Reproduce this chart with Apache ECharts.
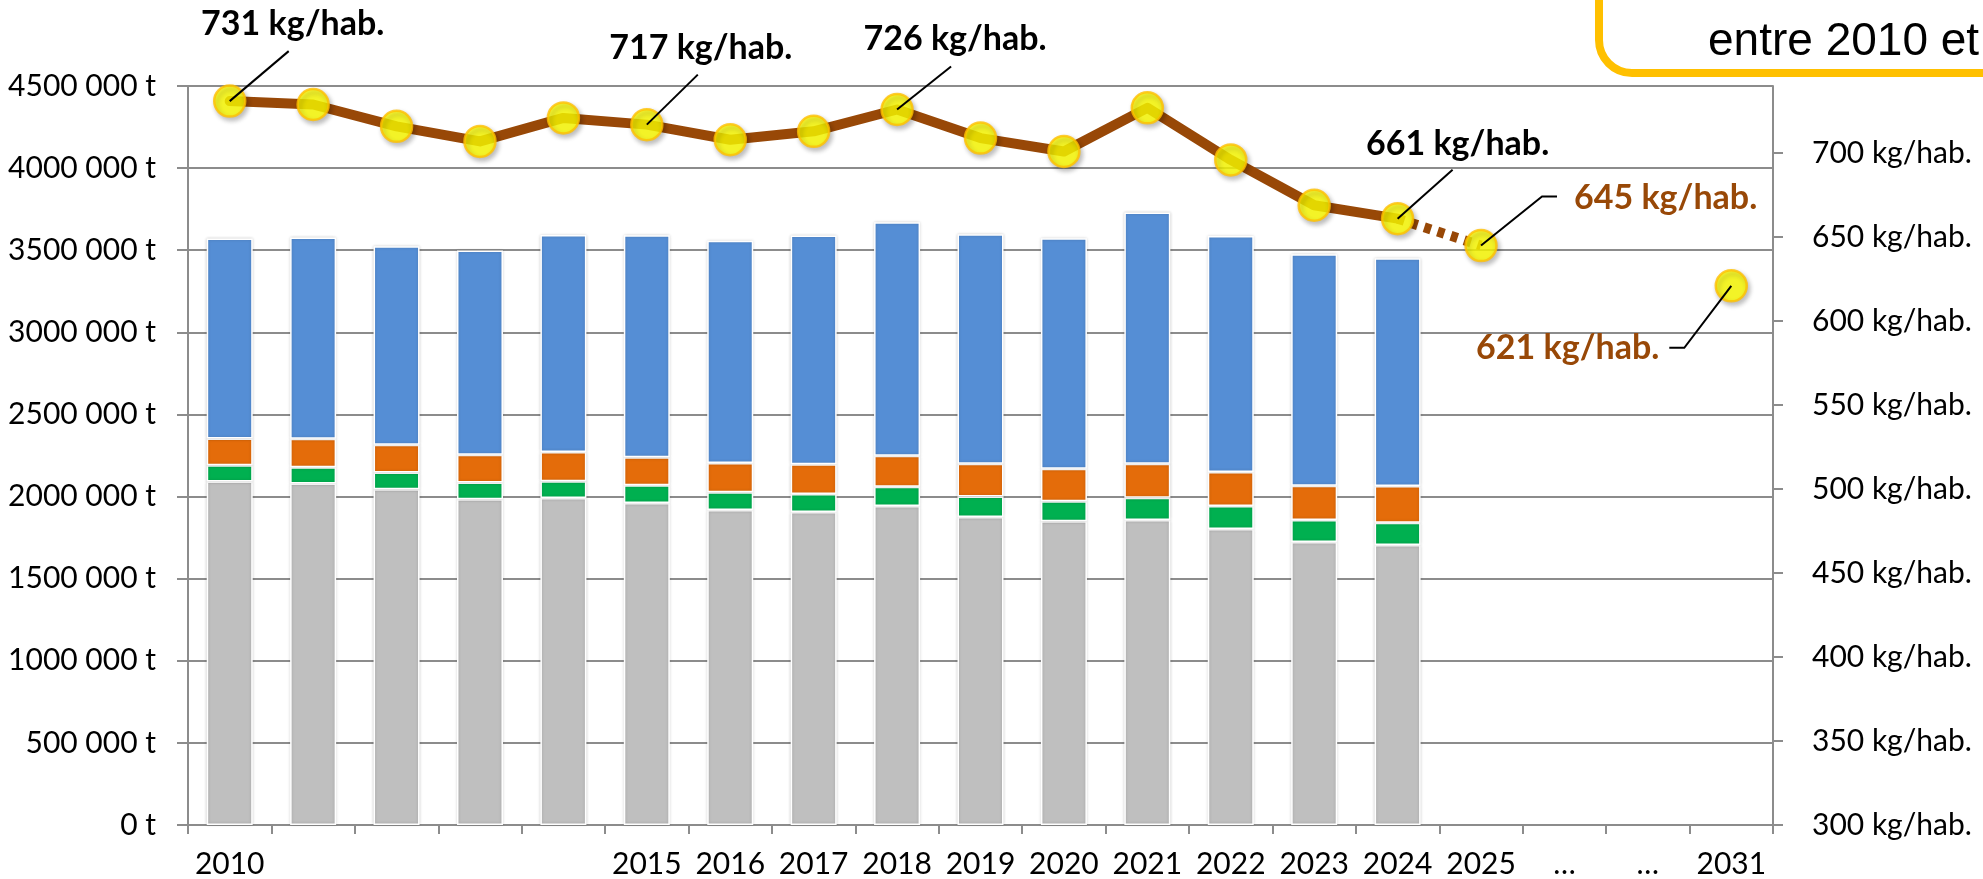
<!DOCTYPE html>
<html lang="fr">
<head>
<meta charset="UTF-8">
<title>kg/hab.</title>
<style>
  html, body { margin: 0; padding: 0; background: #fff; }
  #main { width: 1983px; height: 879px; }
</style>
</head>
<body>
<div id="main"></div>
<script src="https://cdn.jsdelivr.net/npm/echarts@6/dist/echarts.min.js"></script>
<script>
// categories on the x axis
var years = ['2010', '2011', '2012', '2013', '2014', '2015', '2016', '2017', '2018',
             '2019', '2020', '2021', '2022', '2023', '2024', '2025', '…', '…', '2031'];
// what is actually printed under each category
var tickLabels = ['2010', '', '', '', '', '2015', '2016', '2017', '2018',
                  '2019', '2020', '2021', '2022', '2023', '2024', '2025', '…', '…', '2031'];

// tonnages, stacked from bottom to top (2010 -> 2024)
var greyT   = [2091000, 2080000, 2044000, 1983000, 1991000, 1961000, 1918000, 1906000,
               1942000, 1875000, 1849000, 1857000, 1802000, 1723000, 1705000];
var greenT  = [99000, 99000, 102000, 102000, 102000, 108000, 108000, 110000,
               118000, 126000, 122000, 136000, 140000, 134000, 136000];
var orangeT = [164000, 173000, 170000, 170000, 178000, 170000, 178000, 181000,
               189000, 199000, 199000, 207000, 207000, 209000, 223000];
var blueT   = [1218000, 1226000, 1208000, 1243000, 1322000, 1352000, 1353000, 1393000,
               1421000, 1397000, 1403000, 1530000, 1438000, 1409000, 1387000];

// kg/hab. (right axis); null = no point
var kgPerHab = [731, 729, 716, 707, 721, 717, 708, 713, 726, 709, 701, 727, 696, 669, 661,
                645, null, null, 621];
var lastMeasured = 14;           // 2024: solid line stops here, dotted up to 2025
var labelled = ['2010', '2015', '2018', '2024', '2025', '2031'];

var leftTicks = [0, 500000, 1000000, 1500000, 2000000, 2500000, 3000000, 3500000, 4000000, 4500000];
var rightTicks = [300, 350, 400, 450, 500, 550, 600, 650, 700];

// callout layout, in pixels from the point
var callouts = {
    '2010': { line: [[59, -50]], text: [63, -77], align: 'center', color: '#000' },
    '2015': { line: [[51, -50]], text: [54, -77], align: 'center', color: '#000' },
    '2018': { line: [[54, -43]], text: [58, -70], align: 'center', color: '#000' },
    '2024': { line: [[55, -49]], text: [60, -75], align: 'center', color: '#000' },
    '2025': { line: [[61, -49], [76, -49]], text: [93, -48], align: 'left', color: '#984807' },
    '2031': { line: [[-47, 62], [-62, 62]], text: [-72, 62], align: 'right', color: '#984807' }
};

var BROWN = '#984807';
var FONT = 'Lato, Carlito, sans-serif';
var GRID = '#8C8C8C';

var solidLine = kgPerHab.map(function (v, i) { return i <= lastMeasured ? v : '-'; });
var dottedLine = kgPerHab.map(function (v, i) { return (i === lastMeasured || i === lastMeasured + 1) ? v : '-'; });
var markers = kgPerHab.map(function (v) { return v == null ? '-' : v; });
var calloutData = labelled.map(function (y) {
    var i = years.indexOf(y);
    return [i, kgPerHab[i], y];
});

function barSeries(name, values, color) {
    return {
        name: name,
        type: 'bar',
        stack: 'tonnage',
        barWidth: 46,
        data: values,
        itemStyle: {
            color: color,
            borderColor: '#fff',
            borderWidth: 1.5,
            shadowBlur: 3,
            shadowColor: 'rgba(0,0,0,0.18)'
        },
        z: 2
    };
}

function renderCallout(params, api) {
    var key = calloutData[params.dataIndex][2];
    var c = callouts[key];
    var v = api.value(1);
    var p = api.coord([api.value(0), v]);
    var pts = [[p[0], p[1]]].concat(c.line.map(function (d) { return [p[0] + d[0], p[1] + d[1]]; }));
    return {
        type: 'group',
        children: [{
            type: 'polyline',
            shape: { points: pts },
            style: { stroke: '#000', lineWidth: 2, fill: null }
        }, {
            type: 'text',
            x: p[0] + c.text[0],
            y: p[1] + c.text[1],
            style: {
                text: v + ' kg/hab.',
                fill: c.color,
                font: 'bold 34px ' + FONT,
                align: c.align,
                verticalAlign: 'middle'
            }
        }]
    };
}

var chart = echarts.init(document.getElementById('main'));

var option = {
    backgroundColor: '#fff',
    animation: false,
    textStyle: { fontFamily: FONT },
    grid: { left: 188, right: 210, top: 86, bottom: 53, containLabel: false },
    xAxis: {
        type: 'category',
        data: years,
        boundaryGap: true,
        axisLine: { lineStyle: { color: GRID, width: 2 } },
        axisTick: { show: true, interval: 0, length: 9, lineStyle: { color: GRID, width: 2 } },
        axisLabel: {
            interval: 0,
            margin: 24,
            color: '#000',
            fontSize: 30,
            fontFamily: FONT,
            formatter: function (v, i) { return tickLabels[i]; }
        }
    },
    yAxis: [{
        type: 'value',
        min: 0,
        max: 4500000,
        interval: 500000,
        axisLine: { show: true, lineStyle: { color: GRID, width: 2 } },
        axisTick: { show: true, length: 11, lineStyle: { color: GRID, width: 2 } },
        splitLine: { lineStyle: { color: GRID, width: 2 } },
        axisLabel: {
            margin: 32,
            color: '#000',
            fontSize: 30,
            fontFamily: FONT,
            customValues: leftTicks,
            formatter: function (v) { return v === 0 ? '0 t' : (v / 1000) + ' 000 t'; }
        }
    }, {
        type: 'value',
        position: 'right',
        min: 300,
        max: 740,
        interval: 50,
        axisLine: { show: true, lineStyle: { color: GRID, width: 2 } },
        axisTick: { show: true, length: 10, customValues: rightTicks, lineStyle: { color: GRID, width: 2 } },
        splitLine: { show: false },
        axisLabel: {
            margin: 39,
            color: '#000',
            fontSize: 30,
            fontFamily: FONT,
            customValues: rightTicks,
            formatter: function (v) { return v > 700 ? '' : v + ' kg/hab.'; }
        }
    }],
    series: [
        barSeries('gris', greyT, '#BFBFBF'),
        barSeries('vert', greenT, '#00B050'),
        barSeries('orange', orangeT, '#E46C0A'),
        barSeries('bleu', blueT, '#558ED5'),
        {
            name: 'kg/hab.',
            type: 'line',
            yAxisIndex: 1,
            data: solidLine,
            symbol: 'none',
            connectNulls: false,
            lineStyle: { color: BROWN, width: 10, cap: 'round', join: 'round' },
            z: 5
        },
        {
            name: 'kg/hab. (prév.)',
            type: 'line',
            yAxisIndex: 1,
            data: dottedLine,
            symbol: 'none',
            lineStyle: { color: BROWN, width: 10, type: [7, 7], cap: 'butt' },
            z: 5
        },
        {
            name: 'points',
            type: 'scatter',
            yAxisIndex: 1,
            data: markers,
            symbol: 'circle',
            symbolSize: 31,
            itemStyle: {
                color: '#FFFF00',
                borderColor: '#FFC000',
                borderWidth: 2.5,
                shadowBlur: 5,
                shadowOffsetX: 2,
                shadowOffsetY: 3,
                shadowColor: 'rgba(0,0,0,0.3)'
            },
            z: 6
        },
        {
            name: 'étiquettes',
            type: 'custom',
            yAxisIndex: 1,
            data: calloutData,
            renderItem: renderCallout,
            clip: false,
            z: 7
        }
    ],
    graphic: [{
        type: 'rect',
        shape: { x: 1599, y: -80, width: 500, height: 153, r: 33 },
        style: { fill: '#fff', stroke: '#FFC000', lineWidth: 8 },
        z: 10
    }, {
        type: 'text',
        x: 1708,
        y: 42,
        style: {
            text: 'entre 2010 et',
            font: '46px "Liberation Sans", Arial, sans-serif',
            fill: '#000',
            verticalAlign: 'middle'
        },
        z: 11
    }]
};

chart.setOption(option);
</script>
</body>
</html>
